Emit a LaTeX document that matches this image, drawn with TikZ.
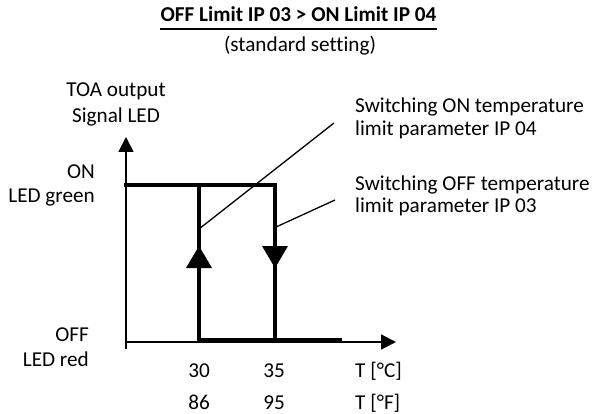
\documentclass[tikz,border=0pt]{standalone}
\usepackage{fontspec}
\setmainfont{Carlito}[Ligatures={NoCommon}]
\usetikzlibrary{arrows.meta,calc}
\begin{document}
\begin{tikzpicture}[x=1pt,y=-1pt,
  lbl/.style={inner sep=0pt,anchor=base,font=\fontsize{21.2}{24}\selectfont},
  axisline/.style={line width=1.8pt,-{Triangle[length=15pt,width=15pt]}},
  curve/.style={line width=4pt,line cap=rect},
  leader/.style={line width=1.3pt},
  tri/.style={fill=black}]
\useasboundingbox (0,0) rectangle (596,414);
% title
\node[lbl,font=\fontsize{21.2}{24}\selectfont\bfseries] (title) at (298.5,22) {OFF Limit IP 03 > ON Limit IP 04};
\draw[line width=1.5pt] ($(title.base west)+(0,7)$) -- ($(title.base east)+(0,7)$);
\node[lbl] (sub) at (300,52) {(standard setting)};
% axis labels
\node[lbl] (ylab1) at (116,97) {TOA output};
\node[lbl] (ylab2) at (116,123) {Signal LED};
\node[lbl,anchor=base east] (on1) at (95,178) {ON};
\node[lbl,anchor=base east] (on2) at (95,202) {LED green};
\node[lbl,anchor=base east] (off1) at (89,341) {OFF};
\node[lbl,anchor=base east] (off2) at (89,366) {LED red};
\node[lbl] (t30) at (199,377) {30};
\node[lbl] (t35) at (274,377) {35};
\node[lbl,anchor=base west] (tc) at (355,377) {T [°C]};
\node[lbl] (t86) at (199,409) {86};
\node[lbl] (t95) at (274,409) {95};
\node[lbl,anchor=base west] (tf) at (355,409) {T [°F]};
\node[lbl,anchor=base west] (onlim1) at (355,113) {Switching ON temperature};
\node[lbl,anchor=base west] (onlim2) at (355,136) {limit parameter IP 04};
\node[lbl,anchor=base west] (offlim1) at (355,190) {Switching OFF temperature};
\node[lbl,anchor=base west] (offlim2) at (355,212) {limit parameter IP 03};
% axes
\coordinate (ybot) at (126,349);
\coordinate (ytop) at (126,137);
\coordinate (xl) at (126,342);
\coordinate (xr) at (396,342);
\draw[axisline] (ybot) -- (ytop);
\draw[axisline] (xl) -- (xr);
% hysteresis curve
\coordinate (a) at (126,185);
\coordinate (b) at (275,185);
\coordinate (c) at (275,340);
\coordinate (d) at (340,340);
\coordinate (e) at (199,185);
\coordinate (f) at (199,340);
\draw[curve] (a) -- (b) -- (c);
\draw[curve] (e) -- (f) -- (d);
% direction triangles
\fill[tri] (199,246) -- (186,268) -- (212,268) -- cycle;
\fill[tri] (275,268) -- (262,246) -- (288,246) -- cycle;
% leaders
\coordinate (l1a) at (199,229);
\coordinate (l1b) at (334,123);
\coordinate (l2a) at (276,227);
\coordinate (l2b) at (335,200);
\draw[leader] (l1a) -- (l1b);
\draw[leader] (l2a) -- (l2b);
\end{tikzpicture}
\end{document}
